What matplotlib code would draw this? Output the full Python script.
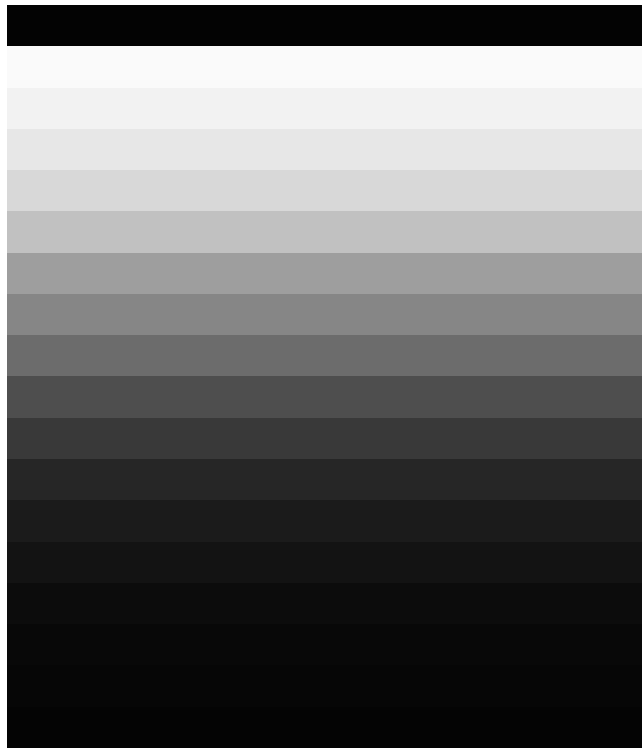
import matplotlib
matplotlib.use("Agg")
import matplotlib.pyplot as plt

# Step wedge: row index (top to bottom) and grey level (0-255)
steps = list(range(18))
grey_levels = [3, 250, 242, 231, 216, 193, 158, 134, 108, 78, 57, 38, 27, 19, 12, 8, 6, 4]

fig = plt.figure(figsize=(6.42, 7.51), dpi=100)
fig.patch.set_facecolor("white")
ax = fig.add_axes([7 / 642, 3 / 751, 1 - 7 / 642, (748 - 5) / 751])

colors = [(g / 255, g / 255, g / 255) for g in grey_levels]
ax.barh(steps, [1] * len(steps), height=1.0, left=0, color=colors, linewidth=0)
ax.set_xlim(0, 1)
ax.set_ylim(len(steps) - 0.5, -0.5)
ax.axis("off")

fig.savefig("out.png", dpi=100, facecolor="white")
